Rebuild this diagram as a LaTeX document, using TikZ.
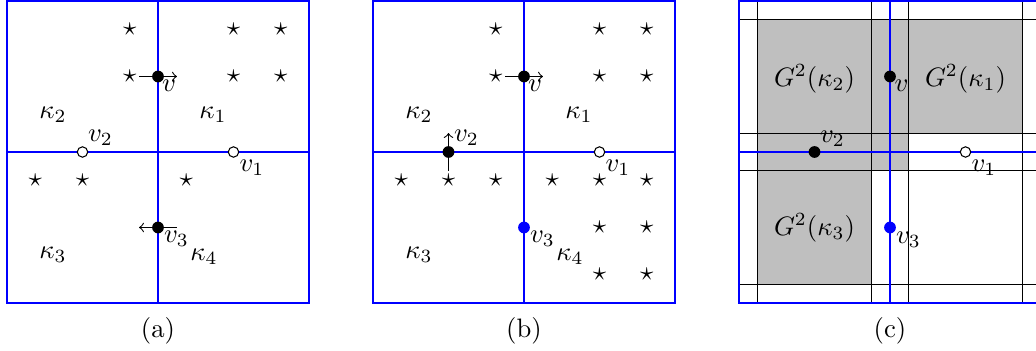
\documentclass[tikz,border=0pt]{standalone}
\begin{document}
\begin{tikzpicture}[x=0.375pt,y=-0.375pt,
  grid/.style={blue,line width=0.8pt},
  fine/.style={black,line width=0.4pt},
  bdot/.style={circle,fill=black,inner sep=0pt,minimum size=4.4pt},
  bldot/.style={circle,fill=blue,inner sep=0pt,minimum size=4.4pt},
  odot/.style={circle,draw=black,fill=white,inner sep=0pt,minimum size=3.9pt,line width=0.4pt},
  st/.style={inner sep=0pt},
  lab/.style={inner sep=0pt},
  arr/.style={->,line width=0.4pt},
  gfill/.style={fill=black!25},
]
\path[use as bounding box] (0,0) rectangle (1036,351);
\clip (0,0) rectangle (1036,351);

% ---------------- panel (a) ----------------
\begin{scope}
\draw[grid] (7,1) rectangle (309,303);
\draw[grid] (158,1) -- (158,303);
\draw[grid] (7,152) -- (309,152);
\foreach \x/\y [count=\i] in {129.7/29.3,233.5/29.3,280.7/29.3,129.7/76.5,233.5/76.5,280.7/76.5,35.3/180.3,82.5/180.3,186.3/180.3}
  \node[st] (a-s\i) at (\x,\y) {$\star$};
\coordinate (a-t1) at (139.1,76.5);
\coordinate (a-h1) at (176.9,76.5);
\draw[arr] (a-t1) -- (a-h1);
\node[bdot] (a-v) at (158,76.5) {};
\coordinate (a-t3) at (176.9,227.5);
\coordinate (a-h3) at (139.1,227.5);
\draw[arr] (a-t3) -- (a-h3);
\node[bdot] (a-v3) at (158,227.5) {};
\node[odot] (a-v2) at (82.5,152) {};
\node[odot] (a-v1) at (233.5,152) {};
\node[lab] (a-lv) at (169,85.5) {$v$};
\node[lab] (a-lv3) at (176.5,239) {$v_3$};
\node[lab] (a-lv2) at (100.5,138) {$v_2$};
\node[lab] (a-lv1) at (252,168) {$v_1$};
\node[lab] (a-k2) at (53,115) {$\kappa_2$};
\node[lab] (a-k1) at (213,115) {$\kappa_1$};
\node[lab] (a-k3) at (53,255) {$\kappa_3$};
\node[lab] (a-k4) at (204,257) {$\kappa_4$};
\node[lab] (a-cap) at (158,331) {(a)};
\end{scope}

% ---------------- panel (b) ----------------
\begin{scope}[shift={(366,0)}]
\draw[grid] (7,1) rectangle (309,303);
\draw[grid] (158,1) -- (158,303);
\draw[grid] (7,152) -- (309,152);
\foreach \x/\y [count=\i] in {129.7/29.3,233.5/29.3,280.7/29.3,129.7/76.5,233.5/76.5,280.7/76.5,35.3/180.3,82.5/180.3,129.7/180.3,186.3/180.3,233.5/180.3,280.7/180.3,233.5/227.5,280.7/227.5,233.5/274.7,280.7/274.7}
  \node[st] (b-s\i) at (\x,\y) {$\star$};
\coordinate (b-t1) at (139.1,76.5);
\coordinate (b-h1) at (176.9,76.5);
\draw[arr] (b-t1) -- (b-h1);
\node[bdot] (b-v) at (158,76.5) {};
\coordinate (b-t2) at (82.5,170.9);
\coordinate (b-h2) at (82.5,133.1);
\draw[arr] (b-t2) -- (b-h2);
\node[bdot] (b-v2) at (82.5,152) {};
\node[odot] (b-v1) at (233.5,152) {};
\node[bldot] (b-v3) at (158,227.5) {};
\node[lab] (b-lv) at (169,85.5) {$v$};
\node[lab] (b-lv3) at (176.5,239) {$v_3$};
\node[lab] (b-lv2) at (100.5,138) {$v_2$};
\node[lab] (b-lv1) at (252,168) {$v_1$};
\node[lab] (b-k2) at (53,115) {$\kappa_2$};
\node[lab] (b-k1) at (213,115) {$\kappa_1$};
\node[lab] (b-k3) at (53,255) {$\kappa_3$};
\node[lab] (b-k4) at (204,257) {$\kappa_4$};
\node[lab] (b-cap) at (158,331) {(b)};
\end{scope}

% ---------------- panel (c) ----------------
\begin{scope}[shift={(732,0)}]
\fill[gfill] (25.9,19.9) rectangle (290.1,133.1);
\fill[gfill] (25.9,133.1) rectangle (176.9,170.9);
\fill[gfill] (25.9,170.9) rectangle (139.1,284.1);
\foreach \x in {25.9,139.1,176.9,290.1}
  \draw[fine] (\x,1) -- (\x,303);
\foreach \y in {19.9,133.1,170.9,284.1}
  \draw[fine] (7,\y) -- (309,\y);
\draw[grid] (7,1) rectangle (309,303);
\draw[grid] (158,1) -- (158,303);
\draw[grid] (7,152) -- (309,152);
\node[bdot] (c-v) at (158,76.5) {};
\node[bdot] (c-v2) at (82.5,152) {};
\node[odot] (c-v1) at (233.5,152) {};
\node[bldot] (c-v3) at (158,227.5) {};
\node[lab] (c-lv) at (169.5,86) {$v$};
\node[lab] (c-lv3) at (176.5,239.5) {$v_3$};
\node[lab] (c-lv2) at (100.5,138.5) {$v_2$};
\node[lab] (c-lv1) at (252,168) {$v_1$};
\node[lab] (c-g2) at (82.5,79) {$G^2(\kappa_2)$};
\node[lab] (c-g1) at (233.5,79) {$G^2(\kappa_1)$};
\node[lab] (c-g3) at (82.5,228) {$G^2(\kappa_3)$};
\node[lab] (c-cap) at (158,331) {(c)};
\end{scope}
\end{tikzpicture}
\end{document}
